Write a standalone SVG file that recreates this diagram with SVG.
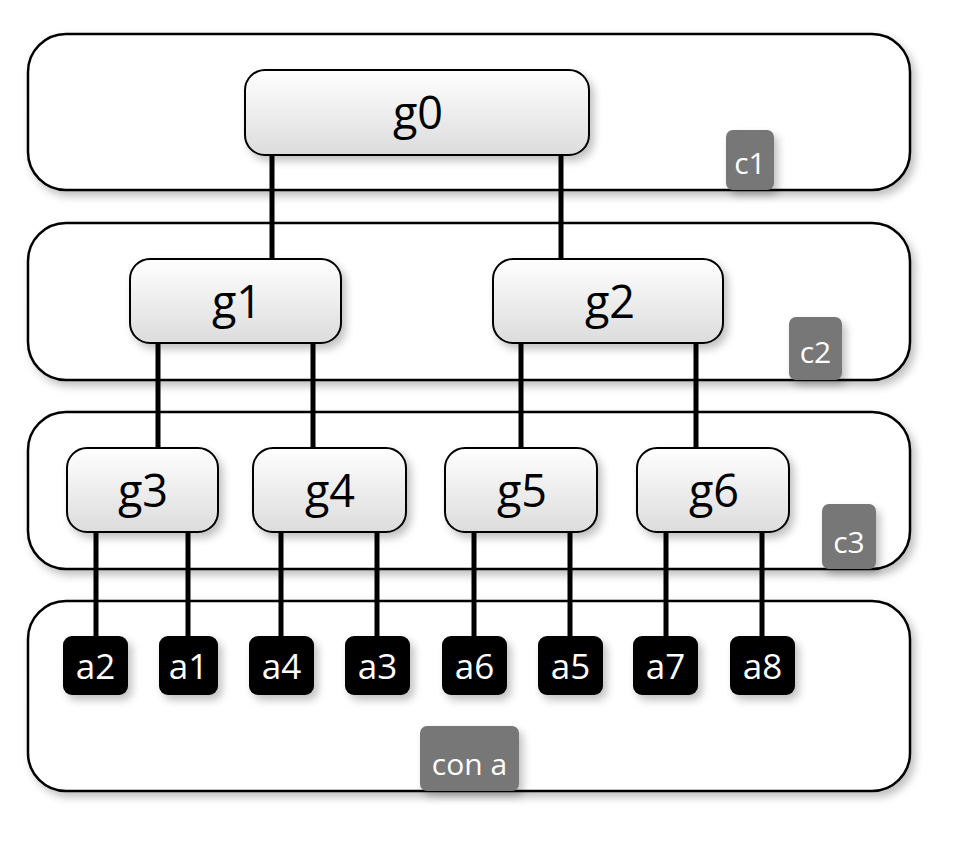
<svg xmlns="http://www.w3.org/2000/svg" width="980" height="848" viewBox="0 0 980 848">
<defs>
<linearGradient id="ng" x1="0" y1="0" x2="0" y2="1">
<stop offset="0" stop-color="#ffffff"/>
<stop offset="1" stop-color="#dcdcdc"/>
</linearGradient>
<filter id="sh" x="-20%" y="-20%" width="150%" height="160%">
<feGaussianBlur in="SourceAlpha" stdDeviation="4"/>
<feOffset dx="4" dy="5" result="b"/>
<feComponentTransfer><feFuncA type="linear" slope="0.25"/></feComponentTransfer>
<feMerge><feMergeNode/><feMergeNode in="SourceGraphic"/></feMerge>
</filter>
</defs>
<style>
.cl{fill:#fff;stroke:#000;stroke-width:2.5}
.bd{fill:#777}
.bt{fill:#fff;font-family:"Open Sans","DejaVu Sans",sans-serif;font-size:30px;text-anchor:middle}
.nd{fill:url(#ng);stroke:#000;stroke-width:2}
.nt{fill:#000;font-family:"Open Sans","DejaVu Sans",sans-serif;font-size:45px;text-anchor:middle}
.lf{fill:#000}
.lt{fill:#fff;font-family:"Open Sans","DejaVu Sans",sans-serif;font-size:35px;text-anchor:middle}
.ln{stroke:#000;stroke-width:5;fill:none}
</style>
<g id="c1"><rect class="cl" x="28" y="34" width="882" height="156" rx="38" filter="url(#sh)"/><rect class="bd" x="726" y="130" width="48" height="60" rx="7" filter="url(#sh)"/><text class="bt" x="750" y="174">c1</text></g>
<g id="c2"><rect class="cl" x="28" y="223" width="882" height="157" rx="38" filter="url(#sh)"/><rect class="bd" x="789" y="317" width="53" height="63" rx="7" filter="url(#sh)"/><text class="bt" x="815.5" y="363">c2</text></g>
<g id="c3"><rect class="cl" x="28" y="412" width="882" height="157" rx="38" filter="url(#sh)"/><rect class="bd" x="822" y="504" width="54" height="65" rx="7" filter="url(#sh)"/><text class="bt" x="849" y="553">c3</text></g>
<g id="con_a"><rect class="cl" x="28" y="601" width="882" height="190" rx="38" filter="url(#sh)"/><rect class="bd" x="420" y="726" width="99" height="65" rx="7" filter="url(#sh)"/><text class="bt" x="469.5" y="775">con a</text></g>
<g id="connectors">
<line class="ln" x1="272" y1="155" x2="272" y2="259"/>
<line class="ln" x1="561" y1="155" x2="561" y2="259"/>
<line class="ln" x1="158" y1="343" x2="158" y2="448"/>
<line class="ln" x1="313" y1="343" x2="313" y2="448"/>
<line class="ln" x1="521" y1="343" x2="521" y2="448"/>
<line class="ln" x1="696" y1="343" x2="696" y2="448"/>
<line class="ln" x1="96" y1="532" x2="96" y2="636"/>
<line class="ln" x1="188" y1="532" x2="188" y2="636"/>
<line class="ln" x1="281" y1="532" x2="281" y2="636"/>
<line class="ln" x1="377" y1="532" x2="377" y2="636"/>
<line class="ln" x1="474" y1="532" x2="474" y2="636"/>
<line class="ln" x1="570" y1="532" x2="570" y2="636"/>
<line class="ln" x1="666" y1="532" x2="666" y2="636"/>
<line class="ln" x1="762" y1="532" x2="762" y2="636"/>
</g>
<g id="g0"><rect class="nd" x="245" y="70" width="344" height="85" rx="20" filter="url(#sh)"/><text class="nt" x="418" y="129">g0</text></g>
<g id="g1"><rect class="nd" x="130" y="259" width="211" height="84" rx="20" filter="url(#sh)"/><text class="nt" x="237" y="318">g1</text></g>
<g id="g2"><rect class="nd" x="493" y="259" width="230" height="84" rx="20" filter="url(#sh)"/><text class="nt" x="610" y="318">g2</text></g>
<g id="g3"><rect class="nd" x="67" y="448" width="151" height="84" rx="20" filter="url(#sh)"/><text class="nt" x="143" y="507">g3</text></g>
<g id="g4"><rect class="nd" x="253" y="448" width="153" height="84" rx="20" filter="url(#sh)"/><text class="nt" x="330" y="507">g4</text></g>
<g id="g5"><rect class="nd" x="445" y="448" width="152" height="84" rx="20" filter="url(#sh)"/><text class="nt" x="522" y="507">g5</text></g>
<g id="g6"><rect class="nd" x="637" y="448" width="152" height="84" rx="20" filter="url(#sh)"/><text class="nt" x="714" y="507">g6</text></g>
<g id="a2"><rect class="lf" x="63" y="636" width="65" height="59" rx="9" filter="url(#sh)"/><text class="lt" x="95.5" y="679">a2</text></g>
<g id="a1"><rect class="lf" x="159" y="636" width="59" height="59" rx="9" filter="url(#sh)"/><text class="lt" x="188.5" y="679">a1</text></g>
<g id="a4"><rect class="lf" x="249" y="636" width="65" height="59" rx="9" filter="url(#sh)"/><text class="lt" x="281.5" y="679">a4</text></g>
<g id="a3"><rect class="lf" x="345" y="636" width="65" height="59" rx="9" filter="url(#sh)"/><text class="lt" x="377.5" y="679">a3</text></g>
<g id="a6"><rect class="lf" x="442" y="636" width="65" height="59" rx="9" filter="url(#sh)"/><text class="lt" x="474.5" y="679">a6</text></g>
<g id="a5"><rect class="lf" x="538" y="636" width="65" height="59" rx="9" filter="url(#sh)"/><text class="lt" x="570.5" y="679">a5</text></g>
<g id="a7"><rect class="lf" x="633" y="636" width="65" height="59" rx="9" filter="url(#sh)"/><text class="lt" x="665.5" y="679">a7</text></g>
<g id="a8"><rect class="lf" x="730" y="636" width="65" height="59" rx="9" filter="url(#sh)"/><text class="lt" x="762.5" y="679">a8</text></g>
</svg>
